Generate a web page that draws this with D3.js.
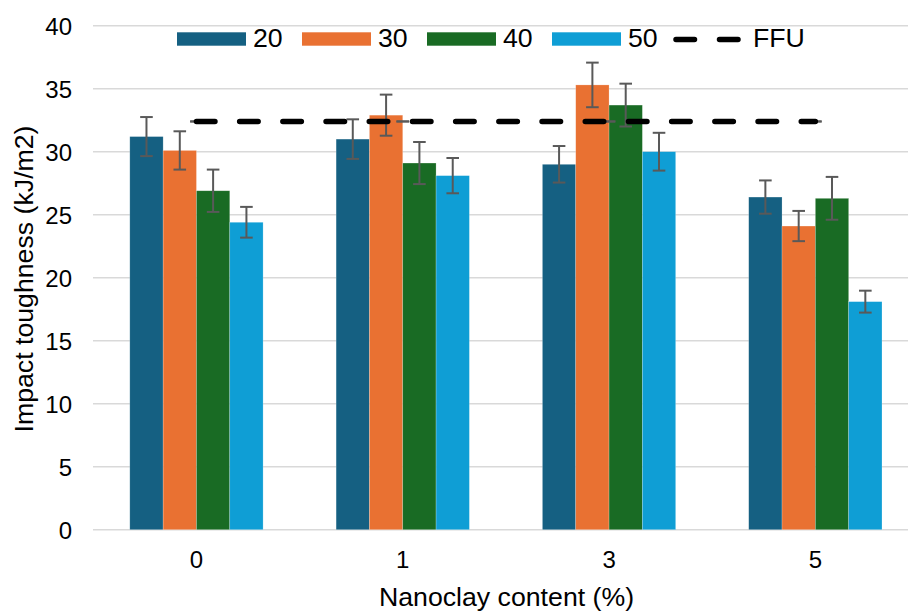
<!DOCTYPE html>
<html>
<head>
<meta charset="utf-8">
<script src="https://cdn.jsdelivr.net/npm/d3@7"></script>
<style>
  body { margin: 0; background: #fff; }
  svg text { font-family: Arial, "Liberation Sans", sans-serif; fill: #000; }
</style>
</head>
<body>
<div id="chart"></div>
<script>
// chart data
const categories = ['0', '1', '3', '5'];
const seriesNames = ['20', '30', '40', '50'];
const s20 = [31.2, 31.0, 29.0, 26.4];
const s30 = [30.1, 32.9, 35.3, 24.1];
const s40 = [26.9, 29.1, 33.7, 26.3];
const s50 = [24.4, 28.1, 30.0, 18.1];
const err20 = [1.55, 1.57, 1.45, 1.32];
const err30 = [1.52, 1.63, 1.77, 1.2];
const err40 = [1.68, 1.67, 1.7, 1.7];
const err50 = [1.22, 1.4, 1.5, 0.87];
const ffu = [32.4, 32.4, 32.4, 32.4];
const ffuErr = [0, 0, 0, 0];
const yTicks = [0, 5, 10, 15, 20, 25, 30, 35, 40];

const colors = ['#156082', '#E97132', '#196B24', '#0F9ED5'];

const values = [s20, s30, s40, s50];
const errors = [err20, err30, err40, err50];

const width = 908, height = 611;

const svg = d3.select('#chart').append('svg')
    .attr('width', width)
    .attr('height', height);

const x0 = d3.scaleBand()
    .domain(categories)
    .range([93.3, 918.5])
    .paddingInner(0.354)
    .paddingOuter(0.177);

const x1 = d3.scaleBand()
    .domain(seriesNames)
    .range([0, x0.bandwidth()]);

const y = d3.scaleLinear().domain([0, 40]).range([529.7, 25.7]);

// gridlines
svg.append('g')
   .selectAll('line')
   .data(yTicks)
   .join('line')
   .attr('x1', 93)
   .attr('x2', width)
   .attr('y1', d => y(d))
   .attr('y2', d => y(d))
   .attr('stroke', '#d9d9d9')
   .attr('stroke-width', 1.4);

// y axis labels
const yAxis = d3.axisLeft(y).tickValues(yTicks).tickSize(0).tickPadding(0);
const gy = svg.append('g')
   .attr('transform', 'translate(72,0)')
   .call(yAxis);
gy.select('.domain').remove();
gy.selectAll('text')
   .attr('font-size', 24)
   .attr('dy', '0.35em')
   .style('font-family', 'Arial, "Liberation Sans", sans-serif')
   .attr('fill', '#000');

// x axis labels
const xAxis = d3.axisBottom(x0).tickSize(0).tickPadding(0);
const gx = svg.append('g')
   .attr('transform', 'translate(0,568)')
   .call(xAxis);
gx.select('.domain').remove();
gx.selectAll('text')
   .attr('font-size', 24)
   .attr('dy', 0)
   .attr('y', 0)
   .style('font-family', 'Arial, "Liberation Sans", sans-serif')
   .attr('fill', '#000');

// bars
seriesNames.forEach((name, si) => {
    svg.append('g')
       .selectAll('rect')
       .data(categories)
       .join('rect')
       .attr('x', c => x0(c) + x1(name))
       .attr('y', (c, i) => y(values[si][i]))
       .attr('width', x1.bandwidth())
       .attr('height', (c, i) => y(0) - y(values[si][i]))
       .attr('fill', colors[si])
       .attr('stroke', 'rgba(255,255,255,0.35)')
       .attr('stroke-width', 0.6);
});

// error bars
function drawErrors(getX, vals, errs) {
    const g = svg.append('g')
       .attr('stroke', '#595959')
       .attr('stroke-width', 2)
       .attr('fill', 'none');
    categories.forEach((c, i) => {
        const cx = getX(c);
        const top = y(vals[i] + errs[i]);
        const bot = y(vals[i] - errs[i]);
        g.append('line').attr('x1', cx).attr('x2', cx).attr('y1', top).attr('y2', bot);
        g.append('line').attr('x1', cx - 6.3).attr('x2', cx + 6.3).attr('y1', top).attr('y2', top);
        g.append('line').attr('x1', cx - 6.3).attr('x2', cx + 6.3).attr('y1', bot).attr('y2', bot);
    });
}

seriesNames.forEach((name, si) => {
    drawErrors(c => x0(c) + x1(name) + x1.bandwidth() / 2, values[si], errors[si]);
});

// FFU dashed line
const centerX = c => x0(c) + x0.bandwidth() / 2;
const ffuLine = d3.line()
    .x((d, i) => centerX(categories[i]))
    .y(d => y(d));

drawErrors(centerX, ffu, ffuErr);

svg.append('path')
   .datum(ffu)
   .attr('fill', 'none')
   .attr('stroke', '#000')
   .attr('stroke-width', 5.5)
   .attr('stroke-linecap', 'round')
   .attr('stroke-dasharray', '18.5 24.7')
   .attr('d', ffuLine);

// legend
const legend = svg.append('g');
const legendX = [177, 302, 427, 552];
seriesNames.forEach((name, si) => {
    legend.append('rect')
       .attr('x', legendX[si])
       .attr('y', 32.3)
       .attr('width', 69)
       .attr('height', 13.4)
       .attr('fill', colors[si]);
    legend.append('text')
       .attr('x', legendX[si] + 76)
       .attr('y', 47.3)
       .attr('font-size', 26.7)
       .text(name);
});
legend.append('line')
   .attr('x1', 676)
   .attr('x2', 739)
   .attr('y1', 39.5)
   .attr('y2', 39.5)
   .attr('stroke', '#000')
   .attr('stroke-width', 5.5)
   .attr('stroke-linecap', 'round')
   .attr('stroke-dasharray', '18.5 25');
legend.append('text')
   .attr('x', 753)
   .attr('y', 47.3)
   .attr('font-size', 26.7)
   .text('FFU');

// axis titles
svg.append('text')
   .attr('x', 506.5)
   .attr('y', 606)
   .attr('text-anchor', 'middle')
   .attr('font-size', 26.7)
   .text('Nanoclay content (%)');

svg.append('text')
   .attr('transform', 'translate(33,279) rotate(-90)')
   .attr('text-anchor', 'middle')
   .attr('font-size', 26.7)
   .text('Impact toughness (kJ/m2)');
</script>
</body>
</html>
